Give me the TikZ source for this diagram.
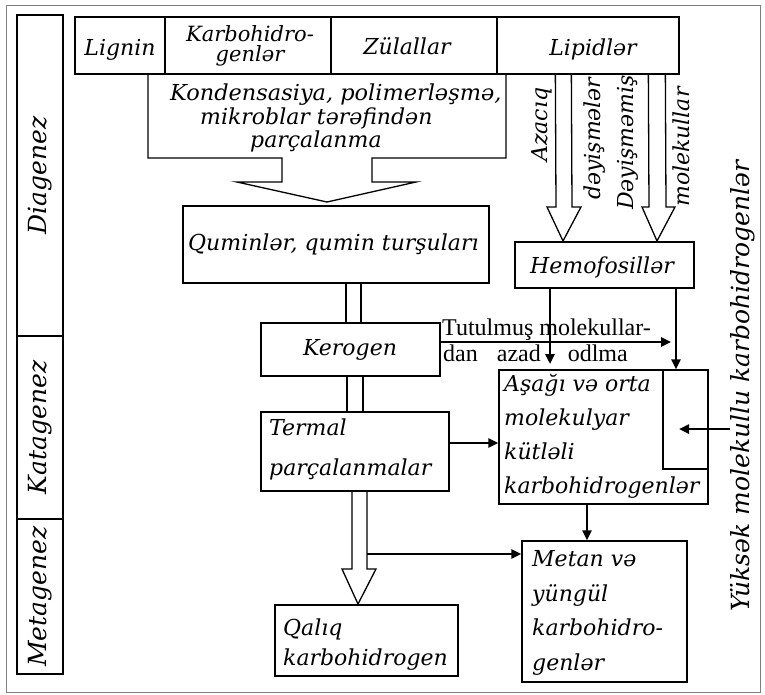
\documentclass[tikz,border=0pt]{standalone}
\usepackage{fontspec}
\usetikzlibrary{arrows.meta,calc}
\newfontfamily\dvs{DejaVu Serif}
\newfontfamily\dvsw{DejaVu Serif}[FakeStretch=1.02]
\newfontfamily\lbs{Liberation Serif}
\begin{document}
\begin{tikzpicture}[x=1pt,y=-1pt,
  line/.style={line width=1.3pt, line join=miter},
  box/.style={draw, line width=1.3pt, inner sep=0pt},
  arr/.style={line width=2.4pt, -{Triangle[length=10pt,width=9pt]}},
  txt/.style={inner sep=0pt, font=\dvs\itshape\fontsize{22}{26}\selectfont},
  lab/.style={box, rotate=90, minimum height=46pt, font=\dvs\itshape\fontsize{25}{30}\selectfont},
  vtx/.style={inner sep=0pt, rotate=90, anchor=base west, font=\dvs\itshape\fontsize{22}{26}\selectfont},
  plain/.style={inner sep=0pt, anchor=base west, font=\lbs\fontsize{24}{28}\selectfont}
]
\useasboundingbox (0,0) rectangle (765,694);
\draw[gray, line width=1pt] (6,5) rectangle (760,692);

% stage column
\node[lab, minimum width=321pt] (diag) at (40,175.5) {Diagenez};
\node[lab, minimum width=183pt] (kata) at (40,427.5) {Katagenez};
\node[lab, minimum width=155pt] (meta) at (40,596.5) {Metagenez};

% top row
\node[box, minimum width=90pt, minimum height=57pt] (lig) at (120,45.5) {};
\node[box, minimum width=166pt, minimum height=57pt] (karb) at (248,45.5) {};
\node[box, minimum width=166pt, minimum height=57pt] (zul) at (414,45.5) {};
\node[box, minimum width=182pt, minimum height=57pt] (lip) at (588,45.5) {};
\node[txt, anchor=base] (tlig) at (120,55) {Lignin};
\node[txt, anchor=base, align=center, font=\dvs\itshape\fontsize{21}{20}\selectfont] (tkarb) at (250,61) {Karbohidro-\\genlər};
\node[txt, anchor=base] (tzul) at (407,54) {Zülallar};
\node[txt, anchor=base] (tlip) at (593,55) {Lipidlər};

% condensation box with hollow arrow
\draw[line] (148,74) -- (148,158) -- (282,158) -- (282,182) -- (237,182) -- (327,202)
  -- (416,182) -- (372,182) -- (372,158) -- (506,158) -- (506,74);
\node[txt, anchor=base west, font=\dvsw\itshape\fontsize{22}{26}\selectfont] (k1) at (170,100) {Kondensasiya, polimerləşmə,};
\node[txt, anchor=base west] (k2) at (200,124) {mikroblar tərəfindən};
\node[txt, anchor=base west] (k3) at (250,147) {parçalanma};

% main boxes
\node[box, minimum width=306pt, minimum height=77pt] (qum) at (336,244.5) {};
\node[txt, anchor=base west] (tqum) at (188,250) {Quminlər, qumin turşuları};
\node[box, minimum width=179pt, minimum height=53pt] (ker) at (350.5,349.5) {};
\node[txt, anchor=base] (tker) at (350,355) {Kerogen};
\node[box, minimum width=188pt, minimum height=79pt] (term) at (355,451.5) {};
\node[txt, anchor=base west, align=left, font=\dvs\itshape\fontsize{22}{40}\selectfont] (tterm) at (269,475) {Termal\\parçalanmalar};
\node[box, minimum width=183pt, minimum height=71pt] (qal) at (366.5,640.5) {};
\node[txt, anchor=base west, align=left, font=\dvs\itshape\fontsize{22}{30}\selectfont] (tqal) at (283,665) {Qalıq\\karbohidrogen};
\node[box, minimum width=165pt, minimum height=141pt] (met) at (604.5,611.5) {};
\node[txt, anchor=base west, align=left, font=\dvs\itshape\fontsize{22}{34.5}\selectfont] (tmet) at (532,670) {Metan və\\yüngül\\karbohidro-\\genlər};
\node[box, minimum width=209pt, minimum height=134pt] (asa) at (603.5,437) {};
\node[box, minimum width=45pt, minimum height=99pt] (inn) at (685.5,419.5) {};
\node[txt, anchor=base west, align=left, font=\dvs\itshape\fontsize{22}{33.7}\selectfont] (tasa) at (504,493) {Aşağı və orta\\molekulyar\\kütləli\\karbohidrogenlər};
\node[box, minimum width=179pt, minimum height=46pt] (hem) at (604.5,265) {};
\node[txt, anchor=base] (them) at (602,273) {Hemofosillər};

% hollow arrows from lipids
\draw[line] ([xshift=59pt]lip.south west) -- (556,207) -- (547,207) -- (563,241) -- (581,207) -- (572,207) -- ([xshift=75pt]lip.south west);
\draw[line] ([xshift=152pt]lip.south west) -- (649,207) -- (642,207) -- (657,241) -- (675,207) -- (666,207) -- ([xshift=169pt]lip.south west);
\node[vtx] (az) at (547,162) {Azacıq};
\node[vtx] (dy) at (600,200) {dəyişmələr};
\node[vtx] (dm) at (633,210) {Dəyişməmiş};
\node[vtx] (mo) at (689,207) {molekullar};
\node[vtx, font=\dvs\itshape\fontsize{25}{30}\selectfont] (yuk) at (749,612) {Yüksək molekullu karbohidrogenlər};

% double-line shafts
\coordinate (sA) at (346,0); \coordinate (sB) at (361,0);
\coordinate (sC) at (347,0); \coordinate (sD) at (363,0);
\coordinate (sE) at (352,0); \coordinate (sF) at (367,0);
\draw[line] (qum.south -| sA) -- (ker.north -| sA);
\draw[line] (qum.south -| sB) -- (ker.north -| sB);
\draw[line] (ker.south -| sC) -- (term.north -| sC);
\draw[line] (ker.south -| sD) -- (term.north -| sD);
\draw[line] (term.south -| sE) -- (352,569) -- (342,569) -- (358,604) -- (376,569) -- (367,569) -- (term.south -| sF);

% solid arrows
\coordinate (cL) at (550,364);
\coordinate (cR) at (676,0);
\coordinate (kt) at (671,342);
\coordinate (yk) at (730,429);
\coordinate (ykt) at (679,429);
\coordinate (cM) at (587,0);
\coordinate (ts) at (367,554);
\draw[arr] ([yshift=7.5pt]ker.east) -- (kt);
\draw[arr] (hem.south -| cL) -- (cL);
\draw[arr] (hem.south -| cR) -- (asa.north -| cR);
\draw[arr] (yk) -- (ykt);
\draw[arr] ([yshift=8.5pt]term.east) -- ([yshift=8.5pt]term.east -| asa.west);
\draw[arr] (asa.south -| cM) -- (met.north -| cM);
\draw[arr] (ts) -- (ts -| met.west);

\node[plain] (tu1) at (442,335) {Tutulmuş molekullar-};
\node[plain] (tu2) at (443,361) {dan\hspace{13pt} azad\hspace{27pt}odlma};
\end{tikzpicture}
\end{document}
